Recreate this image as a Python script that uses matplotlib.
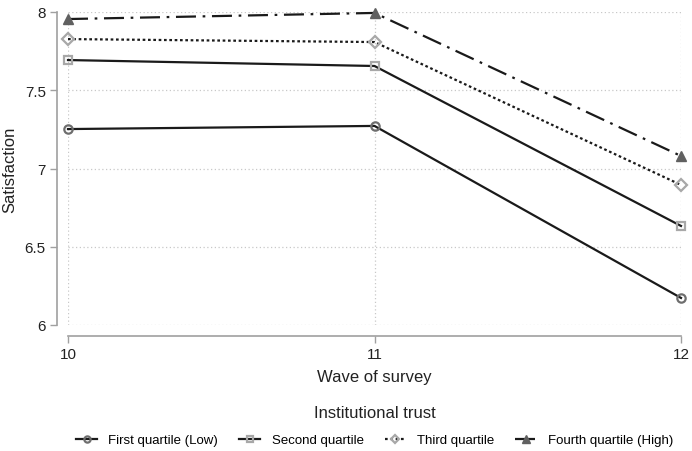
import matplotlib
matplotlib.use("Agg")
import matplotlib.pyplot as plt

plt.rcParams["font.family"] = ["Liberation Sans", "DejaVu Sans"]

# ── Data ──
waves = [10, 11, 12]
first_q = [7.252, 7.272, 6.173]
second_q = [7.693, 7.655, 6.633]
third_q = [7.827, 7.808, 6.895]
fourth_q = [7.955, 7.994, 7.080]
labels = ["First quartile (Low)", "Second quartile", "Third quartile", "Fourth quartile (High)"]
y_ticks = [6, 6.5, 7, 7.5, 8]
y_tick_labels = ["6", "6.5", "7", "7.5", "8"]

W, H = 692, 452
L, R, T, B = 68, 681, 13, 326  # plot area in pixels

fig = plt.figure(figsize=(W / 100, H / 100), dpi=100)
ax = fig.add_axes([L / W, 1 - B / H, (R - L) / W, (B - T) / H])

styles = [
    dict(color="#1a1a1a", ls="-", marker="o", mfc="none", mec="#6e6e6e", ms=6, mew=1.6),
    dict(color="#1a1a1a", ls="-", marker="s", mfc="none", mec="#a8a8a8", ms=6, mew=1.6),
    dict(color="#1a1a1a", ls=(0, (1.2, 1.2)), marker="D", mfc="none", mec="#a8a8a8", ms=6, mew=1.6),
    dict(color="#1a1a1a", ls=(0, (9, 3, 1.2, 3)), marker="^", mfc="#606060", mec="#606060", ms=7, mew=1.0),
]
series = [first_q, second_q, third_q, fourth_q]

for vals, lab, st in zip(series, labels, styles):
    ax.plot(waves, vals, label=lab, lw=1.6, clip_on=False, zorder=3, **st)

ax.set_xlim(10, 12)
ax.set_ylim(6, 8)
ax.set_xticks(waves)
ax.set_yticks(y_ticks)
ax.set_yticklabels(y_tick_labels)

ax.grid(True, color="#c8c8c8", ls=(0, (1, 2)), lw=0.9)
ax.set_axisbelow(True)

# Stata-style detached axes (offset given in points: 8 pt ~ 11 px)
for side in ["top", "right"]:
    ax.spines[side].set_visible(False)
for side in ["left", "bottom"]:
    ax.spines[side].set_position(("outward", 8))
    ax.spines[side].set_color("#a0a0a0")
    ax.spines[side].set_linewidth(1.2)
ax.tick_params(colors="#a0a0a0", labelcolor="#222222", labelsize=11, length=5, width=1, pad=3)

ax.set_ylabel("Satisfaction", fontsize=12, color="#222222", va="center")
ax.yaxis.set_label_coords((10 - L) / (R - L), 0.5)
ax.set_xlabel("Wave of survey", fontsize=12, color="#222222", va="center")
ax.xaxis.set_label_coords(0.5, (B - 378) / (B - T))

cx = (L + R) / 2 / W
fig.text(cx, 1 - 414 / H, "Institutional trust", fontsize=12, color="#222222",
         ha="center", va="center")

fig.legend(
    loc="center",
    bbox_to_anchor=(cx, 1 - 441 / H),
    ncol=4,
    frameon=False,
    fontsize=9.5,
    handlelength=1.6,
    columnspacing=1.6,
    handletextpad=0.85,
    markerscale=0.75,
    borderpad=0,
)

fig.savefig("out.png", dpi=100)
